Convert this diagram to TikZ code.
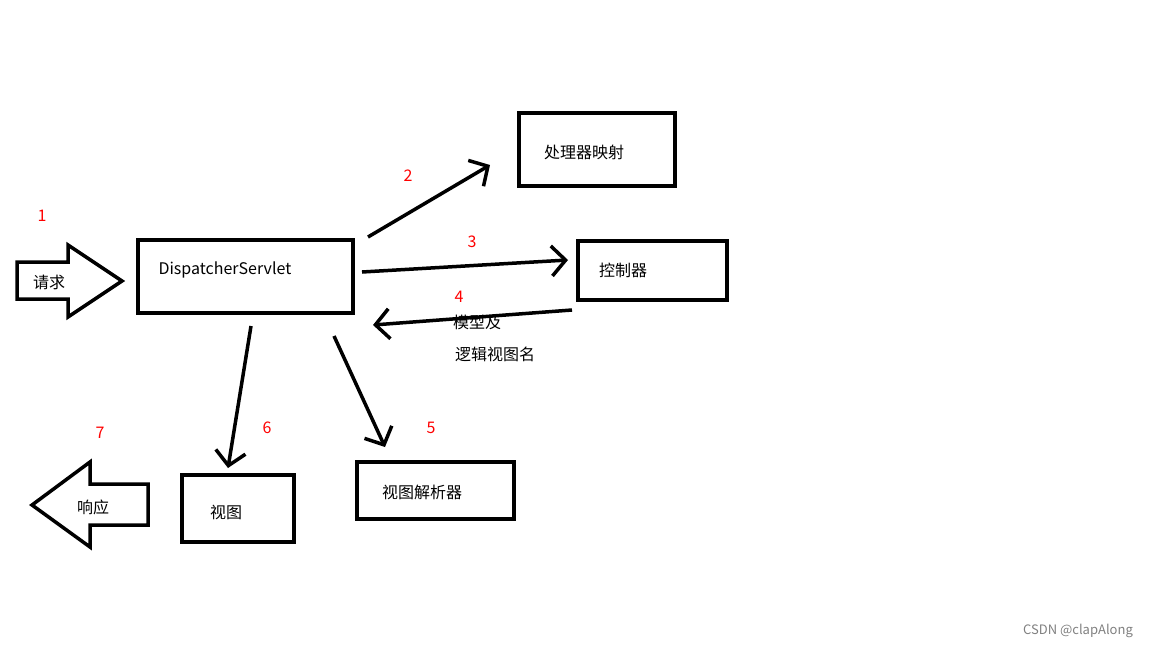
\documentclass[tikz,border=0pt]{standalone}
\usepackage{fontspec}
\setmainfont{Noto Sans CJK SC}
\usetikzlibrary{arrows.meta,positioning}
\tikzset{
  box/.style={draw,line width=3.5pt,anchor=north west,inner sep=0pt},
  flow/.style={line width=3.5pt,-{Straight Barb[length=14pt,width=30pt,line width=3.5pt]}},
  num/.style={text=red,font=\fontsize{16}{19}\selectfont},
  lbl/.style={font=\fontsize{16}{19}\selectfont}
}
\begin{document}
\begin{tikzpicture}[x=1pt,y=1pt,yscale=-1]
\useasboundingbox (0,0) rectangle (1152,648);

%boxes
\node[box,minimum width=215pt,minimum height=73pt] (ds) at (136,238) {};
\node[lbl,anchor=west] at (155,270) {DispatcherServlet};
\node[box,minimum width=156pt,minimum height=73pt] (hm) at (517,111) {};
\node[lbl] at (584,152) {处理器映射};
\node[box,minimum width=149pt,minimum height=59pt] (ctl) at (576,239) {};
\node[lbl] at (623,270) {控制器};
\node[box,minimum width=157pt,minimum height=57pt] (vr) at (355,460) {};
\node[lbl] at (422,492) {视图解析器};
\node[box,minimum width=112pt,minimum height=67pt] (vw) at (180,473) {};
\node[lbl] at (226,512) {视图};

%block arrows
\draw[line width=3.5pt,line join=miter] (17,262) -- (68,262) -- (68,245) -- (122,281) -- (68,317) -- (68,299) -- (17,299) -- cycle;
\node[lbl] (req) at (49,282) {请求};
\draw[line width=3.5pt,line join=miter] (148,484) -- (90,484) -- (90,462) -- (32,505) -- (90,547) -- (90,525) -- (148,525) -- cycle;
\node[lbl] (resp) at (93,507) {响应};

%connectors
\coordinate (a2) at (368,237); \coordinate (b2) at (490,165);
\coordinate (a3) at (362,272); \coordinate (b3) at (568,260);
\coordinate (a4) at (572,310); \coordinate (b4) at (373,325);
\coordinate (a5) at (334,336); \coordinate (b5) at (385,447);
\coordinate (a6) at (251,326); \coordinate (b6) at (228,468);
\draw[flow] (a2) -- (b2);
\draw[flow] (a3) -- (b3);
\draw[flow] (a4) -- (b4);
\draw[flow] (a5) -- (b5);
\draw[flow] (a6) -- (b6);

%labels
\node[num] (n1) at (42,216) {1};
\node[num] (n2) at (408,176) {2};
\node[num] (n3) at (472,242) {3};
\node[num] (n4) at (459,297) {4};
\node[num] (n5) at (431,428) {5};
\node[num] (n6) at (267,428) {6};
\node[num] (n7) at (100,433) {7};
\node[lbl] (m1) at (477,322) {模型及};
\node[lbl] (m2) at (495,354) {逻辑视图名};
\node[text=gray,font=\fontsize{13}{15}\selectfont] (wm) at (1078,631) {CSDN @clapAlong};
\end{tikzpicture}
\end{document}
